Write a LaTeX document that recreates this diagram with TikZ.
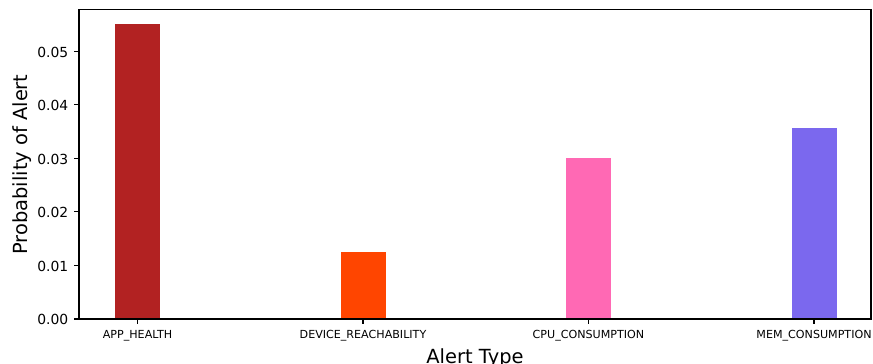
\documentclass[tikz,border=0pt]{standalone}
\usepackage{fontspec}
\setmainfont{DejaVu Sans}
\usepackage{xcolor}
\definecolor{cApp}{HTML}{B22222}
\definecolor{cDev}{HTML}{FF4500}
\definecolor{cCpu}{HTML}{FF69B4}
\definecolor{cMem}{HTML}{7B68EE}
\usepackage{tikz}
\usetikzlibrary{positioning}
\tikzset{
  axis-frame/.style={draw=black,line width=0.8pt},
  axis-tick/.style={draw=black,line width=0.8pt},
  tick-y/.style={font=\fontsize{10}{12}\selectfont,anchor=east,inner sep=0pt},
  tick-x/.style={font=\fontsize{8}{9.6}\selectfont,anchor=north,inner sep=0pt},
  axis-label/.style={font=\fontsize{14}{16.8}\selectfont,inner sep=0pt},
}

\begin{document}
\begin{tikzpicture}[x=0.72pt,y=0.72pt]
  \useasboundingbox (0,0) rectangle (873,364);
  % bars: x = 137.5 + 225.5 i, y = 45 + 5354 p
  \foreach \i/\val/\col in {0/0.0551/cApp,1/0.0125/cDev,2/0.0301/cCpu,3/0.0357/cMem}{
    \fill[\col] ({137.5+225.5*\i-22.5},45) rectangle ({137.5+225.5*\i+22.5},{45+5354*\val});
  }
  \draw[axis-frame] (79,45) rectangle (871,354.2);
  \foreach \v in {0,...,5}{
    \draw[axis-tick] (79,{45+53.54*\v}) -- ++(-4.9,0);
    \node[tick-y] (ytick\v) at (68.5,{44.2+53.54*\v}) {0.0\v};
  }
  \foreach \i/\lbl in {0/APP\_HEALTH,1/DEVICE\_REACHABILITY,2/CPU\_CONSUMPTION,3/MEM\_CONSUMPTION}{
    \draw[axis-tick] ({137.5+225.5*\i},45) -- ++(0,-4.9);
    \node[tick-x] (xtick\i) at ({137.5+225.5*\i},34.2) {\lbl};
  }
  \node[axis-label,rotate=90] (ylab) at (22.5,199.5) {Probability of Alert};
  \node[axis-label,anchor=north] (xlab) at (475,15.9) {Alert Type};
\end{tikzpicture}
\end{document}
